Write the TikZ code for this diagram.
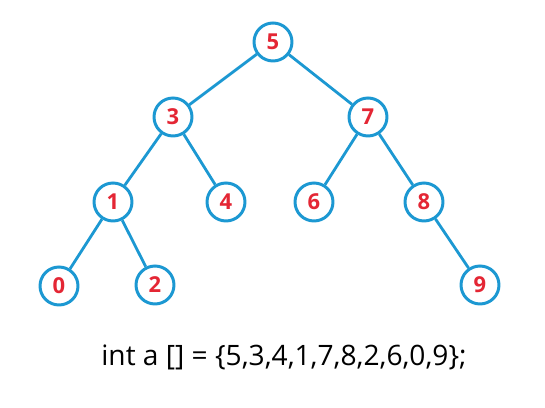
\documentclass[tikz,border=0pt]{standalone}
\usepackage{fontspec}
\setmainfont{Open Sans}
\usepackage{tikz}
\usetikzlibrary{positioning}
\definecolor{treeblue}{RGB}{28,152,210}
\definecolor{numred}{RGB}{228,38,52}
\tikzstyle{key} = [circle, draw=treeblue, line width=1.7pt, fill=white,
minimum size=0.76cm, inner sep=0pt, text=numred, font=\fontsize{12.5}{12.5}\selectfont\bfseries]
\tikzstyle{edge} = [draw=treeblue, line width=1.6pt]

\begin{document}
\begin{tikzpicture}[x=0.02cm, y=-0.02cm]
			\useasboundingbox (0,0) rectangle (545,408);
			\node [key] (n5) at (273,42) {5};
			\node [key] (n3) at (173,117) {3};
			\node [key] (n7) at (368,117) {7};
			\node [key] (n1) at (113,202) {1};
			\node [key] (n4) at (226,202) {4};
			\node [key] (n6) at (314,202) {6};
			\node [key] (n8) at (424,202) {8};
			\node [key] (n0) at (59,286) {0};
			\node [key] (n2) at (155,285) {2};
			\node [key] (n9) at (480,285) {9};
			\path [edge] (n5) -- (n3);
			\path [edge] (n5) -- (n7);
			\path [edge] (n3) -- (n1);
			\path [edge] (n3) -- (n4);
			\path [edge] (n7) -- (n6);
			\path [edge] (n7) -- (n8);
			\path [edge] (n1) -- (n0);
			\path [edge] (n1) -- (n2);
			\path [edge] (n8) -- (n9);
			\node [font=\fontsize{16}{16}\selectfont] (arr) at (284,357) {int a [] = \{5,3,4,1,7,8,2,6,0,9\};};
\end{tikzpicture}
\end{document}
